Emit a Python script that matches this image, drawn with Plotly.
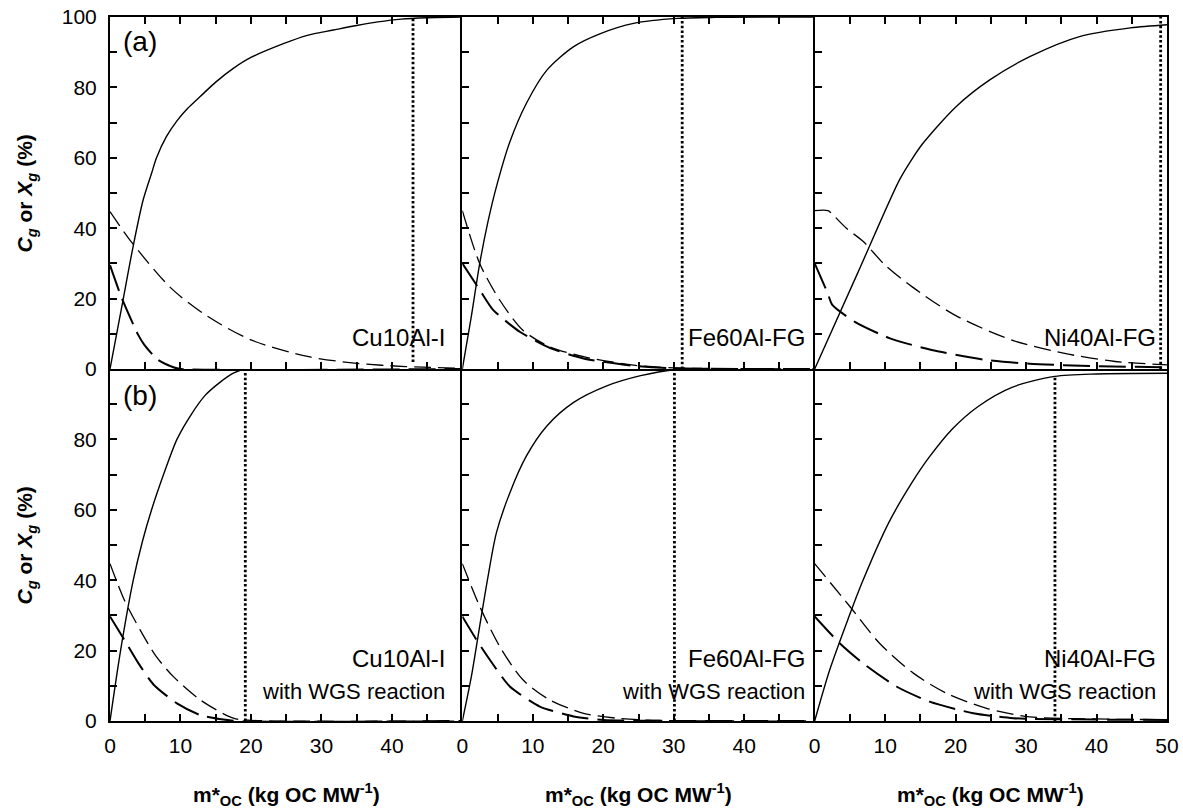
import plotly.graph_objects as go

# ---------------- data ----------------
# Row (a): without WGS reaction
a1_sol_x = [0, 1.85, 3.3, 4.7, 5.9, 6.6, 8.0, 9.5, 11, 12.8, 15, 17.5, 20, 24.7, 28, 31.7, 35, 38, 41.3, 45, 50]
a1_sol_y = [0, 19.6, 35, 48, 55.6, 60, 66, 70.5, 74, 77.4, 81.5, 85.4, 88.5, 92.5, 94.8, 96.3, 97.6, 98.6, 99.4, 99.8, 100]
a1_med_x = [0, 3.0, 8.7, 13.9, 20.1, 28.2, 35, 42, 50]
a1_med_y = [44.7, 36.2, 22.9, 14.9, 8.2, 3.5, 1.6, 0.7, 0.2]
a1_lng_x = [0, 1.6, 4.0, 4.9, 6.8, 9.0, 10, 50]
a1_lng_y = [29.5, 20.5, 9.7, 6.8, 2.6, 0.5, 0, 0]

a2_sol_x = [0, 1.2, 2.47, 3.6, 4.84, 6.74, 9.1, 12, 15.8, 19.6, 24.3, 30.5, 36, 50]
a2_sol_y = [0, 14, 30, 41.5, 51.8, 64.5, 75.5, 84.9, 91.6, 95.3, 98.2, 99.6, 99.9, 100]
a2_med_x = [0, 2.46, 5.3, 8.6, 12.4, 17.2, 24.3, 30, 40, 50]
a2_med_y = [45, 30, 19.6, 11, 6.3, 3.5, 1.1, 0.3, 0.1, 0]
a2_lng_x = [0, 2.46, 4.36, 8.2, 12.4, 17.2, 24.3, 30, 50]
a2_lng_y = [30, 22.5, 16.8, 10.5, 6.0, 3.0, 0.9, 0.2, 0]

a3_sol_x = [0, 6, 12, 13.7, 15.4, 20.1, 24.9, 30.6, 37.7, 44.8, 50]
a3_sol_y = [0, 26.8, 53.6, 59.3, 64.2, 74.6, 82.2, 88.8, 94.5, 96.9, 97.8]
a3_med_x = [0, 1.9, 2.5, 4.5, 6.9, 10, 13.8, 19.9, 28, 35.3, 42.4, 50]
a3_med_y = [45, 45, 44, 40, 36.2, 29.5, 23.4, 15.3, 8.2, 4.5, 2.2, 1.2]
a3_lng_x = [0, 1.85, 2.5, 5.7, 10.7, 16.6, 24.2, 30.5, 40, 50]
a3_lng_y = [30, 21.5, 18.2, 13.4, 8.7, 5.4, 2.6, 1.5, 0.8, 0.5]

# Row (b): with WGS reaction
b1_sol_x = [0, 1.5, 3.3, 4.6, 5.9, 7.6, 9.5, 11.5, 13.5, 15.6, 17.5, 19.2, 50]
b1_sol_y = [0, 20, 40, 51, 60, 70, 80, 87, 92.5, 96.2, 98.8, 100, 100]
b1_med_x = [0, 2, 4.27, 6.5, 9.0, 12.8, 17.5, 20, 50]
b1_med_y = [44.7, 34.5, 25.9, 18.5, 12.6, 6.0, 0.8, 0.2, 0]
b1_lng_x = [0, 1.9, 4.0, 6.2, 9.5, 12.8, 17.5, 50]
b1_lng_y = [29.7, 23.5, 16.5, 10.3, 5.0, 1.7, 0.1, 0]

b2_sol_x = [0, 1.28, 2.46, 3.65, 4.84, 6.74, 9.1, 12, 15.8, 20.5, 25.3, 30, 35, 50]
b2_sol_y = [0, 12.6, 26.9, 41.1, 53.5, 64.8, 75.3, 83.8, 90.5, 95.2, 98.1, 99.8, 100, 100]
b2_med_x = [0, 2.46, 5.3, 8.6, 12.4, 17.2, 21.9, 27, 50]
b2_med_y = [44.7, 32.6, 21.2, 11.7, 6.0, 2.2, 0.8, 0.2, 0]
b2_lng_x = [0, 2, 3.9, 6.74, 11, 15.8, 20, 50]
b2_lng_y = [29.7, 23.1, 17.4, 9.8, 4.1, 1.3, 0.3, 0]

b3_sol_x = [0, 2.13, 4.8, 6.7, 10.5, 13.8, 16.2, 19.5, 23.3, 28, 34.1, 40, 50]
b3_sol_y = [0, 14.5, 29.3, 39.2, 56.3, 67.7, 74.8, 82.9, 89.5, 94.8, 97.9, 98.6, 98.8]
b3_med_x = [0, 4.97, 9.2, 14, 18.7, 24.4, 30.5, 42.4, 50]
b3_med_y = [44.7, 32.6, 22.1, 13.6, 7.9, 3.6, 1.2, 0.5, 0.4]
b3_lng_x = [0, 3.55, 6.86, 11.6, 16.3, 22.5, 28.2, 40, 50]
b3_lng_y = [29.7, 22.1, 16.4, 9.8, 5.5, 2.2, 0.8, 0.4, 0.3]

# vertical dotted markers (one per panel: a1, a2, a3, b1, b2, b3)
vline_x = [43.0, 31.2, 49.1, 19.2, 30.1, 34.1]
vline_top = [100, 100, 100, 100, 100, 97.7]
vline_bot = [2, 0, 0, 0, 0, 0]

oc_names = ["Cu10Al-I", "Fe60Al-FG", "Ni40Al-FG"]
row_letters = ["(a)", "(b)"]
wgs_text = "with WGS reaction"
x_ticks_main = [0, 10, 20, 30, 40]
x_ticks_last = [0, 10, 20, 30, 40, 50]
y_ticks_top = [0, 20, 40, 60, 80, 100]
y_ticks_bot = [0, 20, 40, 60, 80]

panels = [
    (a1_sol_x, a1_sol_y, a1_med_x, a1_med_y, a1_lng_x, a1_lng_y),
    (a2_sol_x, a2_sol_y, a2_med_x, a2_med_y, a2_lng_x, a2_lng_y),
    (a3_sol_x, a3_sol_y, a3_med_x, a3_med_y, a3_lng_x, a3_lng_y),
    (b1_sol_x, b1_sol_y, b1_med_x, b1_med_y, b1_lng_x, b1_lng_y),
    (b2_sol_x, b2_sol_y, b2_med_x, b2_med_y, b2_lng_x, b2_lng_y),
    (b3_sol_x, b3_sol_y, b3_med_x, b3_med_y, b3_lng_x, b3_lng_y),
]

FONT = "Arial, Liberation Sans, sans-serif"
fig = go.Figure()

for i, (sx, sy, mx, my, lx, ly) in enumerate(panels):
    xa = "x" if i == 0 else f"x{i+1}"
    ya = "y" if i == 0 else f"y{i+1}"
    fig.add_trace(go.Scatter(x=sx, y=sy, xaxis=xa, yaxis=ya, mode="lines",
                             line=dict(color="black", width=1.4, shape="spline", smoothing=0.8),
                             showlegend=False, hoverinfo="skip"))
    fig.add_trace(go.Scatter(x=mx, y=my, xaxis=xa, yaxis=ya, mode="lines",
                             line=dict(color="black", width=1.3, dash="17px,7px", shape="spline", smoothing=0.8),
                             showlegend=False, hoverinfo="skip"))
    fig.add_trace(go.Scatter(x=lx, y=ly, xaxis=xa, yaxis=ya, mode="lines",
                             line=dict(color="black", width=2, dash="27px,9px", shape="spline", smoothing=0.6),
                             showlegend=False, hoverinfo="skip"))
    fig.add_trace(go.Scatter(x=[vline_x[i], vline_x[i]], y=[vline_bot[i], vline_top[i]],
                             xaxis=xa, yaxis=ya, mode="lines",
                             line=dict(color="black", width=2.8, dash="2.5px,2.3px"),
                             showlegend=False, hoverinfo="skip"))

col_dom = [[0, 1/3], [1/3, 2/3], [2/3, 1]]
row_dom = [[0.5, 1], [0, 0.5]]
layout = dict()
for i in range(6):
    r, c = divmod(i, 3)
    xkey = "xaxis" if i == 0 else f"xaxis{i+1}"
    ykey = "yaxis" if i == 0 else f"yaxis{i+1}"
    xa = "x" if i == 0 else f"x{i+1}"
    ya = "y" if i == 0 else f"y{i+1}"
    bottom = (r == 1)
    layout[xkey] = dict(
        domain=col_dom[c], anchor=ya, range=[0, 50], automargin=False,
        tickmode="array", tickvals=(x_ticks_last if c == 2 else x_ticks_main),
        showticklabels=bottom, ticks="inside", ticklen=7, tickwidth=2, tickcolor="black",
        minor=dict(dtick=5, ticks="inside", ticklen=7, tickwidth=2, tickcolor="black"),
        showline=True, linewidth=2, linecolor="black", mirror=("ticks" if r == 0 else False),
        showgrid=False, zeroline=False,
        tickfont=dict(family=FONT, size=21, color="black"), ticklabelstandoff=5,
    )
    layout[ykey] = dict(
        domain=row_dom[r], anchor=xa, range=[0, 100], automargin=False,
        tickmode="array", tickvals=(y_ticks_top if r == 0 else y_ticks_bot),
        showticklabels=(c == 0), ticks="inside", ticklen=7, tickwidth=2, tickcolor="black",
        minor=dict(dtick=10, ticks="inside", ticklen=7, tickwidth=2, tickcolor="black"),
        showline=True, linewidth=2, linecolor="black", mirror=(c == 2),
        showgrid=False, zeroline=False,
        tickfont=dict(family=FONT, size=21, color="black"), ticklabelstandoff=7,
    )

annotations = []
# panel letters
annotations.append(dict(text=row_letters[0], xref="x domain", yref="y domain", x=0.03, y=0.93,
                        xanchor="left", yanchor="middle", showarrow=False,
                        font=dict(family=FONT, size=28, color="black")))
annotations.append(dict(text=row_letters[1], xref="x4 domain", yref="y4 domain", x=0.03, y=0.925,
                        xanchor="left", yanchor="middle", showarrow=False,
                        font=dict(family=FONT, size=28, color="black")))
label_right = [0.957, 0.978, 0.974]
for c in range(3):
    xa_top = "x" if c == 0 else f"x{c+1}"
    ya_top = "y" if c == 0 else f"y{c+1}"
    annotations.append(dict(text=oc_names[c], xref=f"{xa_top} domain", yref=f"{ya_top} domain",
                            x=label_right[c], y=0.09, xanchor="right", yanchor="middle", showarrow=False,
                            font=dict(family=FONT, size=24, color="black")))
    xa_b = f"x{c+4}"
    ya_b = f"y{c+4}"
    annotations.append(dict(text=oc_names[c], xref=f"{xa_b} domain", yref=f"{ya_b} domain",
                            x=label_right[c], y=0.177, xanchor="right", yanchor="middle", showarrow=False,
                            font=dict(family=FONT, size=24, color="black")))
    annotations.append(dict(text=wgs_text, xref=f"{xa_b} domain", yref=f"{ya_b} domain",
                            x=label_right[c], y=0.085, xanchor="right", yanchor="middle", showarrow=False,
                            font=dict(family=FONT, size=22, color="black")))
    # x-axis titles
    annotations.append(dict(text="<b>m*<sub>OC</sub> (kg OC MW<sup>-1</sup>)</b>",
                            xref=f"{xa_b} domain", yref="paper", x=0.5, y=-0.105,
                            xanchor="center", yanchor="middle", showarrow=False,
                            font=dict(family=FONT, size=21, color="black")))
# y-axis titles
for yy in [0.75, 0.25]:
    annotations.append(dict(text="<b><i>C<sub>g</sub></i> or <i>X<sub>g</sub></i> (%)</b>",
                            xref="paper", yref="paper", x=-0.079, y=yy, textangle=-90,
                            xanchor="center", yanchor="middle", showarrow=False,
                            font=dict(family=FONT, size=21, color="black")))

fig.update_layout(
    width=1183, height=810,
    margin=dict(l=110, r=16, t=17, b=89, autoexpand=False),
    paper_bgcolor="white", plot_bgcolor="white",
    annotations=annotations,
    **layout,
)

fig.write_html("out.html", config={"displayModeBar": False},
               post_script="document.body.style.margin='0px';document.body.style.overflow='hidden';")
